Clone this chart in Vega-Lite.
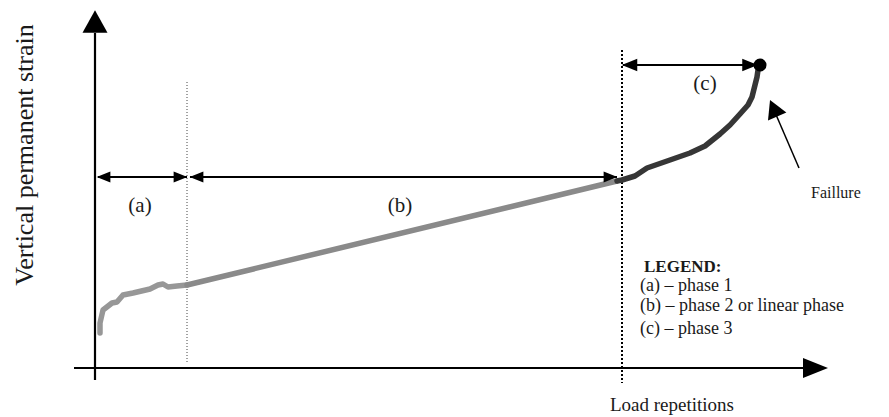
{
  "$schema": "https://vega.github.io/schema/vega-lite/v6.json",
  "width": 889,
  "height": 417,
  "autosize": {"type": "fit", "contains": "padding"},
  "padding": 0,
  "background": "white",
  "config": {"view": {"stroke": null}},
  "datasets": {
    "curve": [
      {"i": 1, "phase": "a", "x": 0.5, "y": 3.5},
      {"i": 2, "phase": "a", "x": 0.5, "y": 4.5},
      {"i": 3, "phase": "a", "x": 0.8, "y": 5.8},
      {"i": 4, "phase": "a", "x": 1.7, "y": 6.5},
      {"i": 5, "phase": "a", "x": 2.2, "y": 6.6},
      {"i": 6, "phase": "a", "x": 2.8, "y": 7.3},
      {"i": 7, "phase": "a", "x": 3.8, "y": 7.5},
      {"i": 8, "phase": "a", "x": 5.5, "y": 7.9},
      {"i": 9, "phase": "a", "x": 6.3, "y": 8.3},
      {"i": 10, "phase": "a", "x": 6.8, "y": 8.4},
      {"i": 11, "phase": "a", "x": 7.3, "y": 8.1},
      {"i": 12, "phase": "a", "x": 8.2, "y": 8.2},
      {"i": 13, "phase": "a", "x": 9.2, "y": 8.3},
      {"i": 14, "phase": "b", "x": 9.2, "y": 8.3},
      {"i": 15, "phase": "b", "x": 52.2, "y": 18.7},
      {"i": 16, "phase": "c", "x": 52.2, "y": 18.7},
      {"i": 17, "phase": "c", "x": 52.7, "y": 18.8},
      {"i": 18, "phase": "c", "x": 54.0, "y": 19.2},
      {"i": 19, "phase": "c", "x": 55.2, "y": 20.0},
      {"i": 20, "phase": "c", "x": 57.5, "y": 20.8},
      {"i": 21, "phase": "c", "x": 59.5, "y": 21.5},
      {"i": 22, "phase": "c", "x": 61.0, "y": 22.2},
      {"i": 23, "phase": "c", "x": 62.5, "y": 23.4},
      {"i": 24, "phase": "c", "x": 63.5, "y": 24.3},
      {"i": 25, "phase": "c", "x": 64.5, "y": 25.4},
      {"i": 26, "phase": "c", "x": 65.3, "y": 26.3},
      {"i": 27, "phase": "c", "x": 65.7, "y": 27.1},
      {"i": 28, "phase": "c", "x": 66.0, "y": 28.3},
      {"i": 29, "phase": "c", "x": 66.2, "y": 29.1},
      {"i": 30, "phase": "c", "x": 66.3, "y": 29.8},
      {"i": 31, "phase": "c", "x": 66.5, "y": 30.3}
    ],
    "axes": [
      {"x": -2.1, "y": 0, "x2": 71.0, "y2": 0},
      {"x": 0, "y": -1.2, "x2": 0, "y2": 33.5}
    ],
    "axisHeads": [
      {"x": 72.05, "y": 0, "dir": "right"},
      {"x": 0, "y": 34.65, "dir": "up"}
    ],
    "thinDotted": [{"x": 9.2, "y": 28.6, "x2": 9.2, "y2": 0.6}],
    "thickDotted": [{"x": 52.7, "y": 31.8, "x2": 52.7, "y2": -1.5}],
    "shafts": [
      {"x": 0.3, "y": 19.1, "x2": 9.2, "y2": 19.1},
      {"x": 9.5, "y": 19.1, "x2": 52.2, "y2": 19.1},
      {"x": 52.8, "y": 30.3, "x2": 66.0, "y2": 30.3}
    ],
    "smallHeads": [
      {"x": 0.85, "y": 19.1, "dir": "left"},
      {"x": 8.55, "y": 19.1, "dir": "right"},
      {"x": 10.15, "y": 19.1, "dir": "left"},
      {"x": 51.55, "y": 19.1, "dir": "right"}
    ],
    "cHeads": [
      {"x": 53.45, "y": 30.3, "dir": "left"},
      {"x": 65.5, "y": 30.3, "dir": "right"}
    ],
    "failurePoint": [{"x": 66.5, "y": 30.3}],
    "failureShaft": [{"x": 70.4, "y": 20.0, "x2": 67.9, "y2": 25.8}],
    "failureHead": [{"x": 67.86, "y": 25.97}],
    "phaseLabels": [
      {"x": 4.5, "y": 16.2, "text": "(a)"},
      {"x": 30.5, "y": 16.2, "text": "(b)"},
      {"x": 61.0, "y": 28.4, "text": "(c)"}
    ],
    "failureLabel": [{"x": 71.6, "y": 17.5, "text": "Faillure"}],
    "legendTitle": [{"x": 54.9, "y": 10.1, "text": "LEGEND:"}],
    "legendRows": [
      {"x": 54.5, "y": 8.2, "text": "(a) – phase 1"},
      {"x": 54.5, "y": 6.2, "text": "(b) – phase 2 or linear phase"},
      {"x": 54.5, "y": 3.9, "text": "(c) – phase 3"}
    ],
    "xTitle": [{"x": 57.7, "y": -3.7, "text": "Load repetitions"}],
    "yTitle": [{"x": -7.0, "y": 21.3, "text": "Vertical permanent strain"}]
  },
  "encoding": {
    "x": {"field": "x", "type": "quantitative", "scale": {"domain": [-9.5, 79.4], "zero": false, "nice": false}, "axis": null},
    "y": {"field": "y", "type": "quantitative", "scale": {"domain": [-4.9, 36.8], "zero": false, "nice": false}, "axis": null}
  },
  "layer": [
    {
      "data": {"name": "thinDotted"},
      "mark": {"type": "rule", "color": "#444444", "strokeWidth": 1, "strokeDash": [1, 2]},
      "encoding": {"x2": {"field": "x2"}, "y2": {"field": "y2"}}
    },
    {
      "data": {"name": "thickDotted"},
      "mark": {"type": "rule", "color": "#000000", "strokeWidth": 2, "strokeDash": [2, 2]},
      "encoding": {"x2": {"field": "x2"}, "y2": {"field": "y2"}}
    },
    {
      "data": {"name": "axes"},
      "mark": {"type": "rule", "color": "#000000", "strokeWidth": 2.2},
      "encoding": {"x2": {"field": "x2"}, "y2": {"field": "y2"}}
    },
    {
      "data": {"name": "axisHeads"},
      "mark": {"type": "point", "filled": true, "color": "#000000", "opacity": 1, "size": 625},
      "encoding": {
        "shape": {"field": "dir", "type": "nominal", "legend": null,
          "scale": {"domain": ["right", "up", "left"], "range": ["M-1,-0.8L1,0L-1,0.8Z", "M-1,0.9L0,-0.9L1,0.9Z", "M1,-0.8L-1,0L1,0.8Z"]}}
      }
    },
    {
      "data": {"name": "curve"},
      "mark": {"type": "line", "strokeWidth": 5.5, "strokeCap": "round", "strokeJoin": "round"},
      "encoding": {
        "order": {"field": "i", "type": "quantitative"},
        "color": {"field": "phase", "type": "nominal", "legend": null,
          "scale": {"domain": ["a", "b", "c"], "range": ["#979797", "#8a8a8a", "#363636"]}}
      }
    },
    {
      "data": {"name": "failurePoint"},
      "mark": {"type": "point", "filled": true, "color": "#000000", "opacity": 1, "size": 170, "shape": "circle"}
    },
    {
      "data": {"name": "shafts"},
      "mark": {"type": "rule", "color": "#000000", "strokeWidth": 2},
      "encoding": {"x2": {"field": "x2"}, "y2": {"field": "y2"}}
    },
    {
      "data": {"name": "smallHeads"},
      "mark": {"type": "point", "filled": true, "color": "#000000", "opacity": 1, "size": 190},
      "encoding": {
        "shape": {"field": "dir", "type": "nominal", "legend": null,
          "scale": {"domain": ["right", "up", "left"], "range": ["M-1,-0.8L1,0L-1,0.8Z", "M-1,0.9L0,-0.9L1,0.9Z", "M1,-0.8L-1,0L1,0.8Z"]}}
      }
    },
    {
      "data": {"name": "cHeads"},
      "mark": {"type": "point", "filled": true, "color": "#000000", "opacity": 1, "size": 240},
      "encoding": {
        "shape": {"field": "dir", "type": "nominal", "legend": null,
          "scale": {"domain": ["right", "up", "left"], "range": ["M-1,-0.8L1,0L-1,0.8Z", "M-1,0.9L0,-0.9L1,0.9Z", "M1,-0.8L-1,0L1,0.8Z"]}}
      }
    },
    {
      "data": {"name": "failureShaft"},
      "mark": {"type": "rule", "color": "#000000", "strokeWidth": 1.5},
      "encoding": {"x2": {"field": "x2"}, "y2": {"field": "y2"}}
    },
    {
      "data": {"name": "failureHead"},
      "mark": {"type": "point", "filled": true, "color": "#000000", "opacity": 1, "size": 400, "angle": -23.4, "shape": "M-1,0.9L0,-0.9L1,0.9Z"}
    },
    {
      "data": {"name": "phaseLabels"},
      "mark": {"type": "text", "font": "Liberation Serif", "fontSize": 21, "color": "#1a1a1a", "baseline": "middle", "align": "center"},
      "encoding": {"text": {"field": "text"}}
    },
    {
      "data": {"name": "failureLabel"},
      "mark": {"type": "text", "font": "Liberation Serif", "fontSize": 16, "color": "#1a1a1a", "baseline": "middle", "align": "left"},
      "encoding": {"text": {"field": "text"}}
    },
    {
      "data": {"name": "legendTitle"},
      "mark": {"type": "text", "font": "Liberation Serif", "fontSize": 17, "fontWeight": "bold", "color": "#1a1a1a", "baseline": "middle", "align": "left"},
      "encoding": {"text": {"field": "text"}}
    },
    {
      "data": {"name": "legendRows"},
      "mark": {"type": "text", "font": "Liberation Serif", "fontSize": 18, "color": "#1a1a1a", "baseline": "middle", "align": "left"},
      "encoding": {"text": {"field": "text"}}
    },
    {
      "data": {"name": "xTitle"},
      "mark": {"type": "text", "font": "Liberation Serif", "fontSize": 19, "color": "#1a1a1a", "baseline": "middle", "align": "center"},
      "encoding": {"text": {"field": "text"}}
    },
    {
      "data": {"name": "yTitle"},
      "mark": {"type": "text", "font": "Liberation Serif", "fontSize": 26, "color": "#1a1a1a", "baseline": "middle", "align": "center", "angle": 270},
      "encoding": {"text": {"field": "text"}}
    }
  ]
}
